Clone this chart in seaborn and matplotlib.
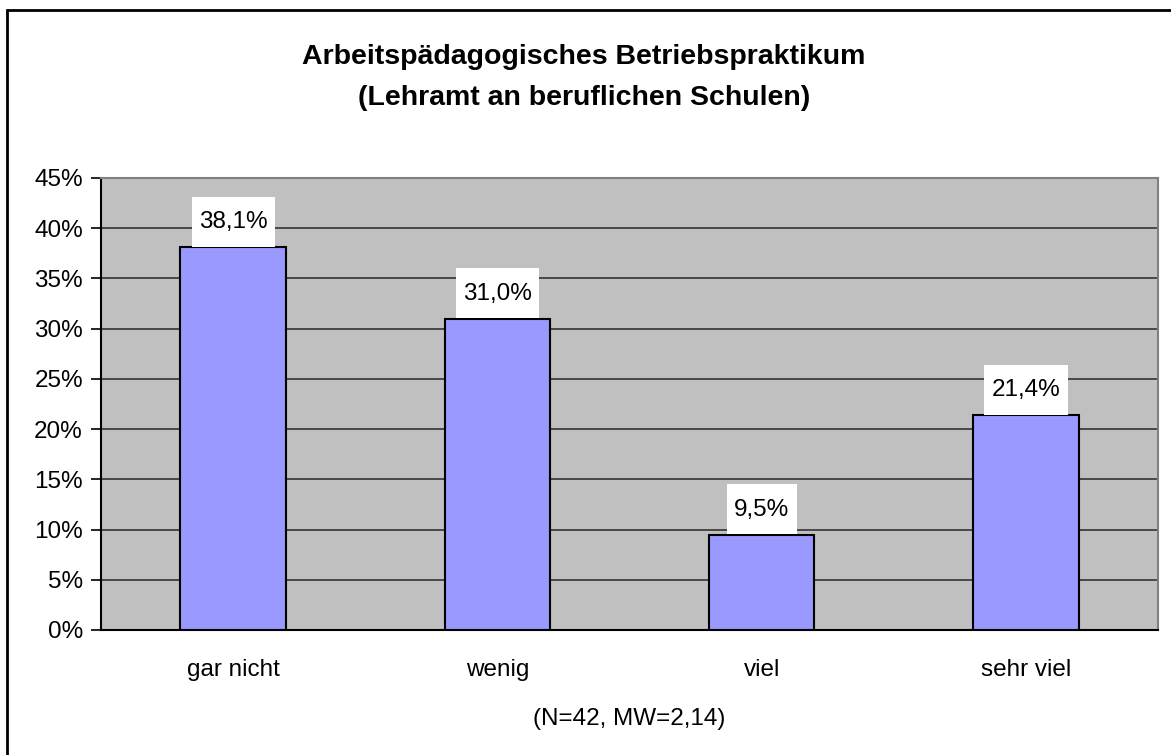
import matplotlib
matplotlib.use("Agg")
import matplotlib.pyplot as plt
import matplotlib.patches as mpatches
from matplotlib.path import Path
import pandas as pd
import seaborn as sns

# Data
categories = ["gar nicht", "wenig", "viel", "sehr viel"]
values = [38.1, 31.0, 9.5, 21.4]
y_ticks = [0, 5, 10, 15, 20, 25, 30, 35, 40, 45]

df = pd.DataFrame({"kategorie": categories, "anteil": values})

sns.set_style("white")
plt.rcParams["font.family"] = ["Liberation Sans", "DejaVu Sans"]
plt.rcParams["text.color"] = "black"
plt.rcParams["axes.labelcolor"] = "black"
plt.rcParams["xtick.color"] = "black"
plt.rcParams["ytick.color"] = "black"


def label_box(x0, y0, width, height, mutation_size):
    # white label box, more space above the text than matplotlib's default
    px = 0.3 * mutation_size
    top = 0.6 * mutation_size
    bot = 0.55 * mutation_size
    x1, y1 = x0 - px, y0 - bot
    x2, y2 = x0 + width + px, y0 + height + top
    return Path([(x1, y1), (x2, y1), (x2, y2), (x1, y2), (x1, y1)], closed=True)


fig = plt.figure(figsize=(11.71, 7.55), dpi=100)
ax = fig.add_axes([101 / 1171, 1 - 630 / 755, (1158 - 101) / 1171, (630 - 178) / 755])
ax.set_facecolor("#C0C0C0")

sns.barplot(
    data=df, x="kategorie", y="anteil", ax=ax, color="#9999FF",
    saturation=1, width=0.4, edgecolor="black", linewidth=1.5, zorder=3,
)

# Value labels with white boxes
for i, v in enumerate(values):
    ax.annotate(
        f"{v:.1f}%".replace(".", ","), xy=(i, v), xytext=(0, 10),
        textcoords="offset points", ha="center", va="bottom", fontsize=17.5,
        bbox=dict(boxstyle=label_box, fc="white", ec="none"), zorder=4,
    )

ax.set_ylim(0, 45)
ax.set_xlim(-0.5, 3.5)
ax.set_yticks(y_ticks)
ax.set_yticklabels([f"{t}%" for t in y_ticks], fontsize=17.5)
ax.yaxis.grid(True, color="#333333", linewidth=1.2, zorder=0)
ax.set_axisbelow(True)

# category boundaries as tick marks, labels in the middle
ax.set_xticks(range(len(categories)))
ax.set_xticklabels(categories, fontsize=17.5)
ax.set_xticks([-0.5, 0.5, 1.5, 2.5, 3.5], minor=True)
ax.tick_params(axis="x", which="major", length=0, pad=21)
ax.tick_params(axis="x", which="minor", length=7, width=1.2, color="black", direction="out")
ax.tick_params(axis="y", length=7, width=1.2, color="black", direction="out", left=True, pad=6)

ax.set_xlabel("(N=42, MW=2,14)", fontsize=17.5, labelpad=19)
ax.set_ylabel("")

for side in ["top", "right"]:
    ax.spines[side].set_color("#808080")
    ax.spines[side].set_linewidth(1.5)
for side in ["left", "bottom"]:
    ax.spines[side].set_color("black")
    ax.spines[side].set_linewidth(1.5)

fig.text(0.4985, 1 - 57 / 755, "Arbeitspädagogisches Betriebspraktikum",
         ha="center", va="center", fontsize=20.5, fontweight="bold")
fig.text(0.4985, 1 - 98 / 755, "(Lehramt an beruflichen Schulen)",
         ha="center", va="center", fontsize=20.5, fontweight="bold")

# outer chart frame
frame = mpatches.Rectangle((7 / 1171, -0.05), 1.2, 1 - 10 / 755 + 0.05,
                           transform=fig.transFigure, fill=False,
                           edgecolor="black", linewidth=2)
fig.patches.append(frame)

fig.savefig("out.png", dpi=100)
